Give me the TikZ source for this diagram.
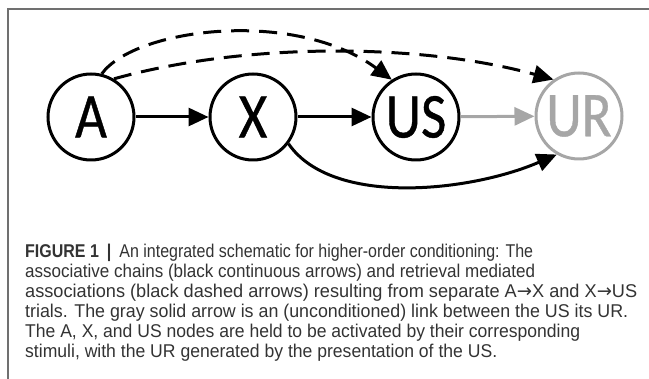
\documentclass[tikz,border=0pt]{standalone}
\usepackage{graphicx}
\usepackage{fontspec}
\setmainfont{Liberation Sans}
\newfontfamily\nodefont[FakeStretch=0.86,FakeBold=0.6]{Carlito}
\newfontfamily\arrowfont{DejaVu Sans}
\newcommand{\rarr}{{\arrowfont →}}
\newcommand{\capfit}[2]{\resizebox{#1pt}{\height}{#2}}
\usetikzlibrary{arrows.meta}
\definecolor{urgray}{HTML}{A6A6A6}
\definecolor{framegray}{HTML}{707070}
\definecolor{captxt}{HTML}{333333}
\begin{document}
\begin{tikzpicture}[x=1pt,y=-1pt,
  stim/.style={circle, draw, line width=3pt, minimum size=86pt, inner sep=0pt,
    font=\nodefont\fontsize{64}{64}\selectfont},
  link/.style={line width=3pt, -{Triangle[length=20pt,width=18pt]}},
  dlink/.style={link, dash pattern=on 18pt off 10pt},
  capline/.style={anchor=base west, inner sep=0pt, text=captxt,
    font=\fontsize{18.5}{20.5}\selectfont},
]
\useasboundingbox (0,0) rectangle (649,379);
\draw[framegray, line width=1.5pt] (8,379) -- (8,9) -- (649,9);

\node[stim] (A) at (91,117) {A};
\node[stim] (X) at (253,117) {X};
\node[stim] (US) at (416,117) {US};
\node[stim, draw=urgray, text=urgray] (UR) at (579,116) {UR};

\draw[link] (A) -- (X);
\draw[link] (X) -- (US);
\draw[link, urgray] (US) -- (UR);
\draw[link] (X.-37) .. controls (332,207) and (470,192) .. (UR.240);
\draw[dlink] (A.76) .. controls (135,28) and (295,8) .. (US.123);
\draw[dlink] (A.59) .. controls (246,42) and (421,43) .. (UR.125);

\node[capline] (c1) at (25,257.5) {\capfit{508}{\textbf{FIGURE 1}\enspace\textbf{|}\enspace An integrated schematic for higher-order conditioning: The}};
\node[capline] (c2) at (25,277.6) {\capfit{510}{associative chains (black continuous arrows) and retrieval mediated}};
\node[capline] (c3) at (25,297.7) {\capfit{612}{associations (black dashed arrows) resulting from separate A\rarr X and X\rarr US}};
\node[capline] (c4) at (25,317.8) {\capfit{603}{trials. The gray solid arrow is an (unconditioned) link between the US its UR.}};
\node[capline] (c5) at (25,337.9) {\capfit{555}{The A, X, and US nodes are held to be activated by their corresponding}};
\node[capline] (c6) at (25,358) {\capfit{472}{stimuli, with the UR generated by the presentation of the US.}};
\end{tikzpicture}
\end{document}
